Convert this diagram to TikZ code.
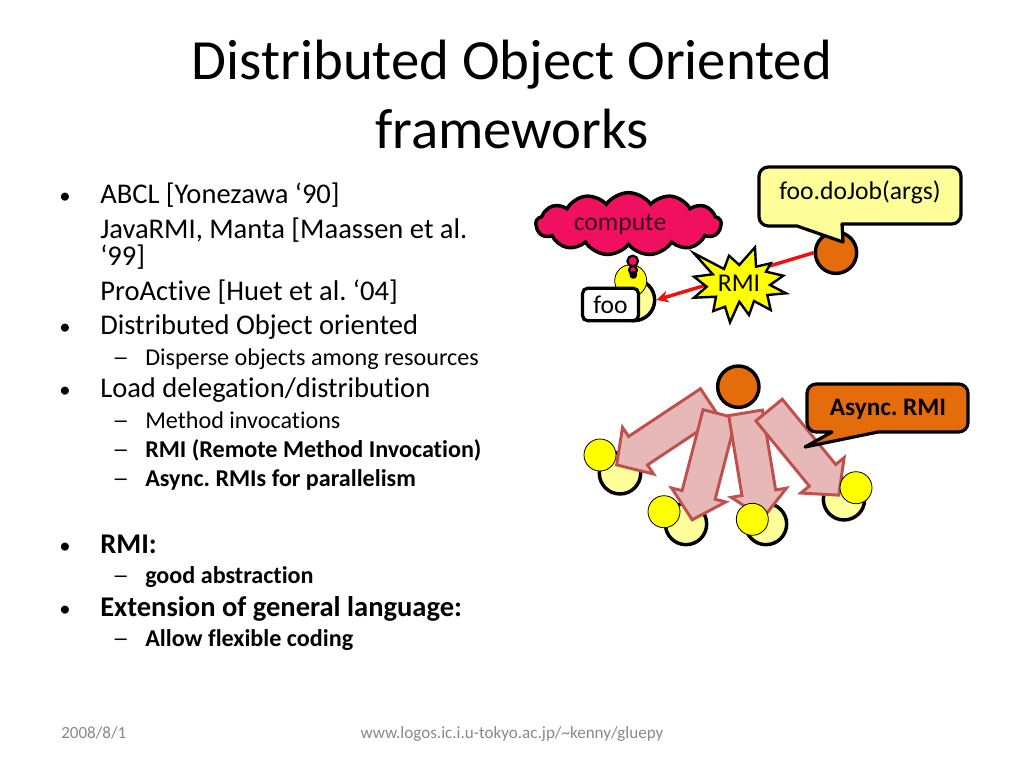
\documentclass[tikz,border=0pt]{standalone}
\usepackage{fontspec}
\setmainfont{Carlito}[Ligatures=NoCommon]
\frenchspacing
\usetikzlibrary{shapes.geometric, shapes.symbols, shapes.arrows, arrows.meta, positioning}
\definecolor{slide-gray}{HTML}{898989}
\definecolor{obj-pale}{HTML}{FFFF99}
\definecolor{obj-yellow}{HTML}{FFFF00}
\definecolor{obj-orange}{HTML}{E46C0A}
\definecolor{cloud-pink}{HTML}{F0105F}
\definecolor{rmi-red}{HTML}{F01010}
\definecolor{fat-fill}{HTML}{E6B9B8}
\definecolor{fat-draw}{HTML}{C0504D}

\begin{document}
\begin{tikzpicture}[
    x=0.75pt, y=-0.75pt,
    title/.style={anchor=base, inner sep=0pt, font=\fontsize{42.6}{46}\selectfont},
    lvone/.style={anchor=base west, inner sep=0pt, font=\fontsize{21.4}{24}\selectfont},
    lvtwo/.style={anchor=base west, inner sep=0pt, font=\fontsize{18.1}{21}\selectfont},
    bull/.style={anchor=base west, inner sep=0pt, font=\fontsize{17}{20}\selectfont},
    dashmark/.style={anchor=base west, inner sep=0pt, xscale=1.4, font=\fontsize{18.1}{21}\selectfont},
    footer/.style={anchor=base, inner sep=0pt, text=slide-gray, font=\fontsize{12.8}{15}\selectfont},
    palecirc/.style={circle, draw=black, line width=2.6pt, fill=obj-pale, minimum size=31pt, inner sep=0pt},
    orangecirc/.style={circle, draw=black, line width=2.6pt, fill=obj-orange, minimum size=31pt, inner sep=0pt},
    yellowcirc/.style={circle, draw=black, line width=0.6pt, fill=obj-yellow, minimum size=24pt, inner sep=0pt},
    fatarrow/.style={single arrow, anchor=tip, draw=fat-draw, fill=fat-fill, line width=2.2pt, inner sep=10pt, minimum width=42pt, single arrow tip angle=95, single arrow head indent=0pt},
    speech/.style={draw=black, line width=2.4pt, line join=round},
    bubble/.style={circle, draw=black, line width=1.6pt, fill=cloud-pink, inner sep=0pt},
    rmiarrow/.style={-{Stealth[length=9pt,width=9pt]}, line width=2.6pt, rmi-red},
    txtlabel/.style={inner sep=0pt, font=\fontsize{19.2}{22}\selectfont}
]
    \useasboundingbox (0,0) rectangle (1024,768);
    \fill[white] (0,0) rectangle (1024,768);

    % title and footer
    \node[title] (t1) at (512,79) {Distributed Object Oriented};
    \node[title] (t2) at (512,148) {frameworks};
    \node[footer, anchor=base west] (date) at (61,738) {2008/8/1};
    \node[footer] (url) at (512,738) {www.logos.ic.i.u-tokyo.ac.jp/\textasciitilde kenny/gluepy};

    % bullet text
    \node[bull] (b1) at (59,203) {•};
    \node[lvone] (l1) at (100,203) {ABCL [Yonezawa ‘90]};
    \node[lvone] (l2) at (100,238) {JavaRMI, Manta [Maassen et al.};
    \node[lvone] (l3) at (100,265) {‘99]};
    \node[lvone] (l4) at (100,300) {ProActive [Huet et al. ‘04]};
    \node[bull] (b2) at (59,334) {•};
    \node[lvone] (l5) at (100,334) {Distributed Object oriented};
    \node[dashmark] (d1) at (112,365) {–};
    \node[lvtwo] (s1) at (145,365) {Disperse objects among resources};
    \node[bull] (b3) at (59,397) {•};
    \node[lvone] (l6) at (100,397) {Load delegation/distribution};
    \node[dashmark] (d2) at (112,428) {–};
    \node[lvtwo] (s2) at (145,428) {Method invocations};
    \node[dashmark] (d3) at (112,457) {–};
    \node[lvtwo] (s3) at (145,457) {\textbf{RMI (Remote Method Invocation)}};
    \node[dashmark] (d4) at (112,486) {–};
    \node[lvtwo] (s4) at (145,486) {\textbf{Async. RMIs for parallelism}};
    \node[bull] (b4) at (59,553) {•};
    \node[lvone] (l7) at (100,553) {\textbf{RMI:}};
    \node[dashmark] (d5) at (112,583) {–};
    \node[lvtwo] (s5) at (145,583) {\textbf{good abstraction}};
    \node[bull] (b5) at (59,616) {•};
    \node[lvone] (l8) at (100,616) {\textbf{Extension of general language:}};
    \node[dashmark] (d6) at (112,646) {–};
    \node[lvtwo] (s6) at (145,646) {\textbf{Allow flexible coding}};

    % upper diagram
    \node[palecirc] (fooobj) at (634,300) {};
    \node[yellowcirc] (foohead) at (630.7,280.7) {};
    \node[orangecirc] (caller) at (836,252.7) {};
    \draw[rmiarrow] (caller.west) -- (fooobj.east);
    \node[txtlabel, draw=black, line width=2.4pt, fill=white, rounded corners=4pt, minimum width=42pt, minimum height=24.5pt] (foolabel) at (610.5,304.5) {foo};
    \draw[speech, fill=obj-pale] (759,195) [rounded corners=7pt] -- (759,167) -- (961,167) -- (961,224) [sharp corners] -- (842,224) -- (843,242) -- (797,226) [rounded corners=7pt] -- (759,226) -- cycle;
    \node[txtlabel] (dojob) at (860,192) {foo.doJob(args)};
    \node[cloud, cloud puffs=13, cloud puff arc=110, cloud ignores aspect, draw=black, line width=2.6pt, fill=cloud-pink, minimum width=139pt, minimum height=47pt, inner sep=0pt] (thought) at (628.5,224) {};
    \node[txtlabel, text=black!75!cloud-pink] (compute) at (620,224) {compute};
    \node[bubble, minimum size=8pt] (bub1) at (632.7,261) {};
    \node[bubble, minimum size=6pt] (bub2) at (633,270) {};
    \node[bubble, minimum size=4pt, fill=black] (bub3) at (633.3,275) {};
    \draw[draw=black, line width=1.8pt, fill=obj-yellow, line join=miter] (694,253.3) -- (724,269) -- (729,255.7) -- (739.3,265) -- (755,247.3) -- (756,266.7) -- (770.7,263.3) -- (766,271.7) -- (783.3,275.7) -- (770,285) -- (786,293.3) -- (767.3,295) -- (770.7,310) -- (754,301) -- (749,315) -- (739.3,301.7) -- (730,322.3) -- (725,306.7) -- (713.3,311) -- (716,296.7) -- (694,297.7) -- (706.7,286.7) -- (694,276.7) -- (712.7,274.3) -- cycle;
    \node[txtlabel] (rmi) at (739,283) {RMI};

    % lower diagram
    \node[orangecirc] (sender) at (738.3,386.7) {};
    \node[palecirc] (obja) at (620,473.3) {};
    \node[palecirc] (objb) at (686,524) {};
    \node[palecirc] (objc) at (766,524) {};
    \node[palecirc] (objd) at (844,499.3) {};
    \node[fatarrow, rotate=213.6, minimum height=84pt] (fata) at (615,466) {};
    \node[fatarrow, rotate=255.5, minimum height=82pt] (fatb) at (691.7,521.7) {};
    \node[fatarrow, rotate=-80.6, minimum height=80pt] (fatc) at (763.3,520) {};
    \node[fatarrow, rotate=-50.7, minimum height=82.5pt] (fatd) at (840,496.7) {};
    \node[yellowcirc] (heada) at (600,455) {};
    \node[yellowcirc] (headb) at (664,511.7) {};
    \node[yellowcirc] (headc) at (752.3,519.3) {};
    \node[yellowcirc] (headd) at (856,487.7) {};
    \draw[speech, fill=obj-orange] (807,410) [rounded corners=7pt] -- (807,384) -- (968,384) -- (968,432) [sharp corners] -- (878,432) -- (805,447) -- (832,432) [rounded corners=7pt] -- (807,432) -- cycle;
    \node[txtlabel, font=\fontsize{18.9}{21}\selectfont\bfseries] (async) at (888,409) {Async. RMI};
\end{tikzpicture}
\end{document}
